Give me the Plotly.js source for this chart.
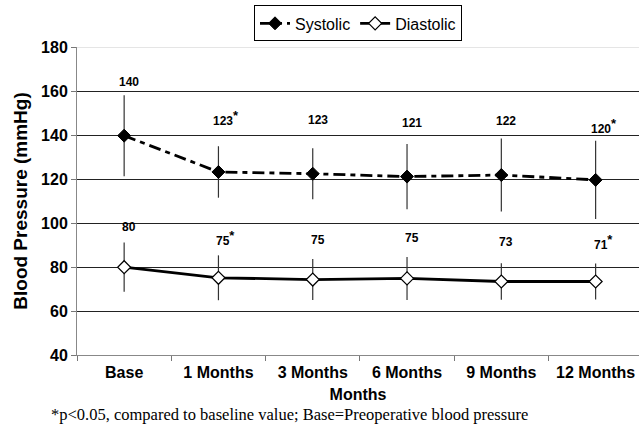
<!DOCTYPE html>
<html>
<head>
<meta charset="utf-8">
<script src="https://cdn.plot.ly/plotly-3.0.1.min.js"></script>
<style>html,body{margin:0;padding:0;background:#fff;}#chart{width:639px;height:431px;}</style>
</head>
<body>
<div id="chart"></div>
<script>
// ---- data ----
const categories = ["Base", "1 Months", "3 Months", "6 Months", "9 Months", "12 Months"];
const systolic = [139.7, 123.2, 122.4, 121.1, 121.8, 119.6];
const systolicErr = [18.4, 11.7, 11.6, 14.8, 16.6, 17.8];
const diastolic = [79.9, 75.1, 74.3, 74.8, 73.4, 73.4];
const diastolicErr = [11.2, 10.2, 9.3, 9.8, 8.3, 8.2];
const systolicLabels = ["140", "123*", "123", "121", "122", "120*"];
const diastolicLabels = ["80", "75*", "75", "75", "73", "71*"];
const yTicks = [40, 60, 80, 100, 120, 140, 160, 180];
const footnote = "*p<0.05, compared to baseline value; Base=Preoperative blood pressure";

const SANS = "Arial, 'Liberation Sans', Helvetica, sans-serif";
const SERIF = "'Times New Roman', 'Liberation Serif', serif";

const traces = [
  {
    type: "scatter", mode: "lines+markers", name: "Systolic",
    x: categories, y: systolic,
    line: {color: "#000", width: 2.8, dash: "12px,5px,5px,5px"},
    marker: {symbol: "diamond", size: 10, color: "#000", line: {color: "#000", width: 1}},
    error_y: {type: "data", array: systolicErr, visible: true, color: "#333", thickness: 1.2, width: 0}
  },
  {
    type: "scatter", mode: "lines+markers", name: "Diastolic",
    x: categories, y: diastolic,
    line: {color: "#000", width: 2.8},
    marker: {symbol: "diamond", size: 10, color: "#fff", line: {color: "#000", width: 1.2}},
    error_y: {type: "data", array: diastolicErr, visible: true, color: "#333", thickness: 1.2, width: 0}
  }
];

function fmt(s) {
  return s.endsWith("*")
    ? s.slice(0, -1) + "<sup><span style='font-size:13px'>*</span></sup>"
    : s;
}

const annotations = [];
categories.forEach((c, i) => {
  annotations.push({
    x: c, y: systolic[i], xref: "x", yref: "y", showarrow: false,
    text: "<b>" + fmt(systolicLabels[i]) + "</b>",
    xanchor: "left", yanchor: "middle", xshift: -7, yshift: 54,
    font: {family: SANS, size: 12, color: "#000"}
  });
  annotations.push({
    x: c, y: diastolic[i], xref: "x", yref: "y", showarrow: false,
    text: "<b>" + fmt(diastolicLabels[i]) + "</b>",
    xanchor: "left", yanchor: "middle", xshift: -4, yshift: 40,
    font: {family: SANS, size: 12, color: "#000"}
  });
});
annotations.push({
  xref: "paper", yref: "paper", x: -0.05, y: -0.193, xanchor: "left", yanchor: "middle",
  showarrow: false, text: footnote,
  font: {family: SERIF, size: 16.5, color: "#000"}
});

const layout = {
  width: 639, height: 431,
  margin: {l: 77, r: 0, t: 47, b: 76, pad: 0},
  paper_bgcolor: "#fff", plot_bgcolor: "#fff",
  showlegend: true,
  legend: {
    orientation: "h", x: 0.5, xanchor: "center", y: 1.135, yanchor: "top",
    bgcolor: "#fff", bordercolor: "#000", borderwidth: 1,
    font: {family: SANS, size: 16, color: "#000"},
    itemwidth: 30, tracegroupgap: 0
  },
  xaxis: {
    type: "category", range: [-0.5, 5.46],
    tickson: "boundaries", ticks: "outside", ticklen: 5, tickcolor: "#777", tickwidth: 1,
    ticklabelstandoff: 3,
    showline: true, linecolor: "#888", linewidth: 1, showgrid: false, zeroline: false,
    tickfont: {family: SANS, size: 16, color: "#000", weight: "bold"},
    title: {text: "Months", font: {family: SANS, size: 16, color: "#000", weight: "bold"}, standoff: 8},
    automargin: false
  },
  yaxis: {
    range: [40, 180], tickvals: yTicks,
    ticks: "outside", ticklen: 5, tickcolor: "#777", tickwidth: 1,
    showline: true, linecolor: "#888", linewidth: 1,
    showgrid: true, gridcolor: "#222", gridwidth: 1, zeroline: false,
    tickfont: {family: SANS, size: 16, color: "#000", weight: "bold"},
    title: {text: "Blood Pressure (mmHg)", font: {family: SANS, size: 19, color: "#000", weight: "bold"}, standoff: 8},
    automargin: false
  },
  shapes: [
    {type: "line", xref: "paper", yref: "y", x0: 0, x1: 1, y0: 180, y1: 180,
     line: {color: "#ccc", width: 1}, layer: "above"}
  ],
  annotations: annotations
};

Plotly.newPlot("chart", traces, layout, {displayModeBar: false, staticPlot: true});
</script>
</body>
</html>
